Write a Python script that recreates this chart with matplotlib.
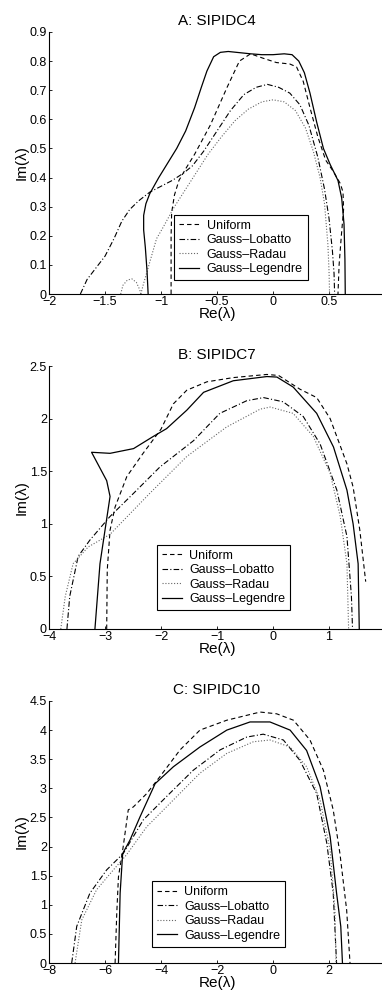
import matplotlib
matplotlib.use("Agg")
import matplotlib.pyplot as plt
from matplotlib.ticker import FuncFormatter

plt.rcParams['font.family'] = ['Liberation Sans', 'DejaVu Sans']

# ---- A: SIPIDC4 ----
a_uni_x = [-0.91, -0.91, -0.905, -0.88, -0.84, -0.78, -0.70, -0.56, -0.41, -0.30, -0.20, -0.09, 0.03, 0.15, 0.21, 0.27, 0.33, 0.40, 0.47, 0.54, 0.60, 0.625, 0.63, 0.61, 0.59, 0.58]
a_uni_y = [0.0, 0.20, 0.28, 0.34, 0.39, 0.43, 0.48, 0.58, 0.71, 0.80, 0.825, 0.81, 0.795, 0.79, 0.78, 0.73, 0.64, 0.54, 0.46, 0.42, 0.38, 0.35, 0.29, 0.20, 0.10, 0.0]
a_lob_x = [-1.72, -1.66, -1.58, -1.50, -1.42, -1.35, -1.28, -1.20, -1.10, -1.00, -0.90, -0.80, -0.72, -0.62, -0.50, -0.38, -0.26, -0.15, -0.05, 0.05, 0.15, 0.24, 0.32, 0.40, 0.46, 0.50, 0.53, 0.545, 0.55]
a_lob_y = [0.0, 0.05, 0.09, 0.13, 0.19, 0.25, 0.29, 0.32, 0.35, 0.37, 0.39, 0.415, 0.44, 0.49, 0.56, 0.63, 0.685, 0.71, 0.72, 0.71, 0.69, 0.65, 0.58, 0.47, 0.36, 0.26, 0.15, 0.07, 0.0]
a_rad_x = [-1.18, -1.16, -1.13, -1.04, -0.98, -0.88, -0.78, -0.68, -0.58, -0.46, -0.34, -0.22, -0.10, 0.0, 0.10, 0.20, 0.29, 0.36, 0.42, 0.46, 0.49, 0.50, 0.505]
a_rad_y = [0.0, 0.03, 0.07, 0.19, 0.23, 0.30, 0.36, 0.42, 0.48, 0.54, 0.595, 0.635, 0.66, 0.667, 0.66, 0.63, 0.57, 0.49, 0.40, 0.31, 0.17, 0.08, 0.0]
a_rad_lobe_x = [-1.36, -1.34, -1.30, -1.26, -1.22, -1.19, -1.18]
a_rad_lobe_y = [0.0, 0.03, 0.048, 0.052, 0.04, 0.015, 0.0]
a_leg_x = [-1.115, -1.125, -1.14, -1.155, -1.155, -1.135, -1.10, -1.02, -0.94, -0.86, -0.78, -0.70, -0.64, -0.59, -0.53, -0.47, -0.40, -0.30, -0.20, -0.10, 0.0, 0.10, 0.17, 0.23, 0.28, 0.33, 0.39, 0.45, 0.51, 0.58, 0.613, 0.634, 0.642, 0.645]
a_leg_y = [0.0, 0.08, 0.16, 0.22, 0.27, 0.31, 0.345, 0.40, 0.45, 0.50, 0.56, 0.64, 0.71, 0.766, 0.815, 0.83, 0.833, 0.829, 0.825, 0.822, 0.822, 0.825, 0.822, 0.80, 0.76, 0.69, 0.59, 0.50, 0.445, 0.39, 0.33, 0.24, 0.12, 0.0]

# ---- B: SIPIDC7 ----
b_uni_x = [-2.97, -2.96, -2.91, -2.82, -2.61, -2.32, -2.0, -1.78, -1.54, -1.18, -0.71, -0.11, 0.10, 0.48, 0.78, 1.02, 1.32, 1.43, 1.55, 1.655]
b_uni_y = [0.0, 0.56, 0.94, 1.16, 1.45, 1.67, 1.90, 2.14, 2.27, 2.35, 2.39, 2.42, 2.41, 2.28, 2.20, 2.00, 1.57, 1.35, 0.94, 0.45]
b_lob_x = [-3.68, -3.63, -3.48, -3.27, -2.91, -2.49, -2.02, -1.42, -0.95, -0.47, -0.17, 0.18, 0.54, 0.84, 1.14, 1.32, 1.40, 1.42]
b_lob_y = [0.0, 0.31, 0.69, 0.845, 1.07, 1.29, 1.54, 1.79, 2.05, 2.17, 2.20, 2.16, 2.02, 1.76, 1.32, 0.88, 0.31, 0.0]
b_rad_x = [-3.79, -3.71, -3.57, -3.30, -2.91, -2.20, -1.54, -0.83, -0.23, -0.05, 0.36, 0.72, 1.02, 1.20, 1.32, 1.35]
b_rad_y = [0.0, 0.31, 0.62, 0.78, 0.90, 1.29, 1.64, 1.92, 2.09, 2.11, 2.05, 1.83, 1.48, 1.07, 0.62, 0.0]
b_leg_x = [-3.18, -3.09, -3.0, -2.91, -2.97, -3.24, -2.91, -2.49, -2.14, -1.90, -1.54, -1.24, -0.71, -0.11, 0.07, 0.36, 0.78, 1.08, 1.32, 1.43, 1.52, 1.54]
b_leg_y = [0.0, 0.62, 0.94, 1.26, 1.41, 1.68, 1.67, 1.715, 1.83, 1.905, 2.08, 2.25, 2.36, 2.40, 2.395, 2.30, 2.05, 1.73, 1.32, 1.0, 0.62, 0.0]

# ---- C: SIPIDC10 ----
c_uni_x = [-5.64, -5.58, -5.52, -5.35, -5.17, -4.99, -4.51, -4.04, -3.32, -2.61, -1.65, -0.46, 0.13, 0.73, 1.32, 1.80, 2.15, 2.39, 2.63, 2.75]
c_uni_y = [0.0, 0.86, 1.48, 2.0, 2.63, 2.68, 2.91, 3.20, 3.66, 4.0, 4.17, 4.31, 4.28, 4.17, 3.83, 3.31, 2.63, 1.88, 0.91, 0.0]
c_lob_x = [-7.19, -7.01, -6.54, -5.94, -5.35, -4.63, -3.80, -2.85, -1.89, -0.94, -0.35, 0.37, 0.96, 1.56, 1.92, 2.15, 2.27]
c_lob_y = [0.0, 0.63, 1.20, 1.60, 1.88, 2.46, 2.86, 3.31, 3.66, 3.88, 3.93, 3.83, 3.48, 2.91, 2.06, 1.20, 0.0]
c_rad_x = [-7.07, -6.83, -6.30, -5.70, -5.23, -4.51, -3.56, -2.61, -1.65, -0.70, -0.11, 0.61, 1.20, 1.68, 2.04, 2.21, 2.25]
c_rad_y = [0.0, 0.74, 1.26, 1.60, 1.86, 2.34, 2.80, 3.26, 3.60, 3.80, 3.83, 3.71, 3.37, 2.80, 1.94, 0.91, 0.0]
c_leg_x = [-5.52, -5.46, -5.37, -5.11, -4.75, -4.21, -3.56, -2.61, -1.65, -0.82, -0.11, 0.61, 1.20, 1.68, 2.04, 2.27, 2.42, 2.48]
c_leg_y = [0.0, 1.20, 1.88, 2.11, 2.51, 3.08, 3.37, 3.71, 4.0, 4.14, 4.14, 4.0, 3.65, 3.03, 2.17, 1.20, 0.63, 0.0]

titles = ['A: SIPIDC4', 'B: SIPIDC7', 'C: SIPIDC10']
labels = ['Uniform', 'Gauss\u2013Lobatto', 'Gauss\u2013Radau', 'Gauss\u2013Legendre']
xlims = [(-2, 1), (-4, 2), (-8, 4)]
ylims = [(0, 0.9), (0, 2.5), (0, 4.5)]
xticks = [[-2, -1.5, -1, -0.5, 0, 0.5, 1], [-4, -3, -2, -1, 0, 1, 2], [-8, -6, -4, -2, 0, 2, 4]]
yticks = [[0, 0.1, 0.2, 0.3, 0.4, 0.5, 0.6, 0.7, 0.8, 0.9],
          [0, 0.5, 1, 1.5, 2, 2.5],
          [0, 0.5, 1, 1.5, 2, 2.5, 3, 3.5, 4, 4.5]]

panels = [
    [(a_uni_x, a_uni_y), (a_lob_x, a_lob_y), (a_rad_x, a_rad_y), (a_leg_x, a_leg_y)],
    [(b_uni_x, b_uni_y), (b_lob_x, b_lob_y), (b_rad_x, b_rad_y), (b_leg_x, b_leg_y)],
    [(c_uni_x, c_uni_y), (c_lob_x, c_lob_y), (c_rad_x, c_rad_y), (c_leg_x, c_leg_y)],
]

# line styles: uniform dashed, lobatto dash-dot, radau dotted, legendre solid
styles = [
    dict(color='black', lw=0.8, dashes=(4, 2.8)),
    dict(color='black', lw=0.8, dashes=(5, 2, 1, 2)),
    dict(color='0.4', lw=0.8, dashes=(1, 1.6)),
    dict(color='black', lw=0.9, ls='-'),
]

# axes boxes in figure fractions (right edge runs slightly off the figure)
bottoms = [0.7048, 0.3685, 0.0331]
heights = [0.2631, 0.2640, 0.2631]
leg_anchor = [(0.372, 0.053), (0.32, 0.072), (0.306, 0.062)]

fmt = FuncFormatter(lambda v, p: ('%g' % v).replace('-', '\u2212'))

fig = plt.figure(figsize=(3.82, 9.96), dpi=100)

for i in range(3):
    ax = fig.add_axes([0.1283, bottoms[i], 0.8796, heights[i]])
    for (xs, ys), st, lab in zip(panels[i], styles, labels):
        ax.plot(xs, ys, label=lab, **st)
    if i == 0:
        ax.plot(a_rad_lobe_x, a_rad_lobe_y, **styles[2])
    ax.set_xlim(*xlims[i])
    ax.set_ylim(*ylims[i])
    ax.set_xticks(xticks[i])
    ax.set_yticks(yticks[i])
    ax.xaxis.set_major_formatter(fmt)
    ax.yaxis.set_major_formatter(fmt)
    ax.spines['top'].set_visible(False)
    ax.spines['right'].set_visible(False)
    ax.spines['left'].set_linewidth(0.8)
    ax.spines['bottom'].set_linewidth(0.8)
    ax.tick_params(direction='in', length=2.5, width=0.6, labelsize=9, pad=1.5)
    ax.set_title(titles[i], fontsize=11, pad=5)
    ax.set_xlabel('Re(\u03bb)', fontsize=11, labelpad=-1)
    ax.set_ylabel('Im(\u03bb)', fontsize=11, labelpad=1)
    leg = ax.legend(loc='lower left', bbox_to_anchor=leg_anchor[i], borderaxespad=0,
                    fontsize=9, handlelength=1.6, handletextpad=0.6, borderpad=0.4,
                    labelspacing=0.2, fancybox=False, framealpha=1)
    leg.get_frame().set_edgecolor('black')
    leg.get_frame().set_linewidth(0.8)

fig.savefig('out.png', dpi=100)
